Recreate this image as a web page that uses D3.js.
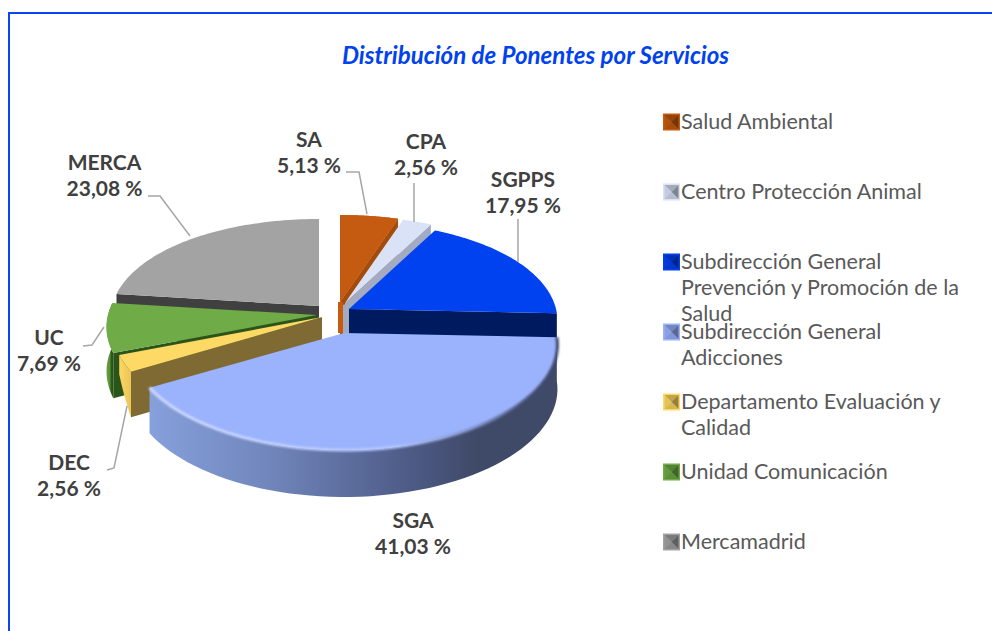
<!DOCTYPE html>
<html><head><meta charset="utf-8">
<script src="https://cdn.jsdelivr.net/npm/d3@7"></script>
<style>html,body{margin:0;padding:0;background:#fff}svg{display:block}text{font-family:Lato,sans-serif}</style>
</head><body><svg id="c" width="992" height="631"></svg>
<script>
const chartTitle = "Distribución de Ponentes por Servicios";
const codes = ["SA","CPA","SGPPS","SGA","DEC","UC","MERCA"];
const services = ["Salud Ambiental","Centro Protección Animal","Subdirección General Prevención y Promoción de la Salud","Subdirección General Adicciones","Departamento Evaluación y Calidad","Unidad Comunicación","Mercamadrid"];
const values = [5.13,2.56,17.95,41.03,2.56,7.69,23.08];
const valueLabels = ["5,13 %","2,56 %","17,95 %","41,03 %","2,56 %","7,69 %","23,08 %"];
const legendLines = [["Salud Ambiental"],["Centro Protección Animal"],["Subdirección General","Prevención y Promoción de la","Salud"],["Subdirección General","Adicciones"],["Departamento Evaluación y","Calidad"],["Unidad Comunicación"],["Mercamadrid"]];

// styling and layout, separate from the data
const topColors  = ["#c55a11","#d9e2f7","#0041f0","#9bb2fd","#ffd966","#6fab46","#a3a3a3"];
const sideColors = ["#a34c0e","#a3abc2","#001a60","#5a6a9a","#7f6a33","#2b5518","#404040"];
const apexes = [[340,302],[345,303],[349,309],[344,333],[322,317],[317,315],[319,306]];
const sideRadius = [207,207,207,212,208,209,207];
const paintOrder = [6,0,1,2,5,4,3];
const labelPos = [[309,147],[426,149],[523,187],[413,528],[69,470],[49,345],[104.5,170]];
const leaders = [[[346,172],[359,172],[367,214]],[[414,183],[414,222]],[[518,219],[518,262]],[],[[107,470],[114,468],[127,406]],[[83,346],[92,345],[104,327]],[[148,196],[160,196],[190,236]]];

const svg = d3.select("#c");
const defs = svg.append("defs");
const grad = (id,x1,x2,stops)=>{
  const g = defs.append("linearGradient").attr("id",id).attr("gradientUnits","userSpaceOnUse")
    .attr("x1",x1).attr("x2",x2).attr("y1",0).attr("y2",0);
  stops.forEach(s=>g.append("stop").attr("offset",s[0]).attr("stop-color",s[1]));
};
grad("wallSGA",150,558,[[0,"#86a0dc"],[.3,"#7085ba"],[.6,"#515f8c"],[.8,"#3f4968"],[1,"#3f4968"]]);
grad("rimSGA",150,558,[[0,"#cfdbff"],[.6,"#b4c6ff"],[.78,"#7e8fc4"],[.92,"#47537a"],[1,"#3f4968"]]);
grad("wallUC",104,112,[[0,"#71ad48"],[.7,"#5a9238"],[.95,"#2b5518"],[1,"#2b5518"]]);
grad("wallDEC",118,134,[[0,"#ffd966"],[1,"#e6c052"]]);
defs.append("filter").attr("id","soft").append("feGaussianBlur").attr("stdDeviation",0.9);
const wallFills = {3:"url(#wallSGA)",4:"url(#wallDEC)",5:"url(#wallUC)"};

// frame
svg.append("path").attr("d","M9,631V13H992").attr("fill","none").attr("stroke","#0a46f5").attr("stroke-width",2);

svg.append("text").attr("x",535.5).attr("y",64).attr("text-anchor","middle")
  .attr("font-size",24.1).attr("font-weight",700).attr("font-style","italic").attr("fill","#0041f0").text(chartTitle);

// pie geometry from d3.pie, projected with perspective
const arcs = d3.pie().sort(null).value(d=>d)(values);
const rim = (i,t)=>{
  const s=Math.sin(t), c=Math.cos(t), a=apexes[i];
  return [a[0]+(sideRadius[i]-25*c)*s, a[1]-(102-15*c)*c];
};
const drop = t=>44-3*Math.cos(t);
const line = d3.line();
const arcPts = (i,a0,a1)=>d3.range(0,61).map(k=>rim(i,a0+(a1-a0)*k/60));

paintOrder.forEach(i=>{
  const a0=arcs[i].startAngle, a1=arcs[i].endAngle, p=apexes[i];
  const g=svg.append("g");
  const pts=arcPts(i,a0,a1);
  const wallAngle = (i===6||i===4||i===5)?a0:(i===3?null:a1);
  if(i===5){
    const r=rim(i,a0);
    g.append("path").attr("d",line([p,r,[r[0],r[1]+drop(a0)],[p[0],p[1]+30]])+"Z").attr("fill",sideColors[i]);
  } else if(wallAngle!==null){
    const r=rim(i,wallAngle), d=drop(wallAngle);
    g.append("path").attr("d",line([p,r,[r[0],r[1]+d],[p[0],p[1]+d]])+"Z").attr("fill",sideColors[i]);
  }
  if(i>=3 && i<=5){
    // the yellow slice's wall tapers toward its outer corner
    const taper = k => i===4 ? 1-0.58*k/60 : 1;
    const low=pts.map((q,k)=>[q[0],q[1]+drop(a0+(a1-a0)*k/60)*taper(k)]).reverse();
    g.append("path").attr("d",line(pts.concat(low))+"Z").attr("fill",wallFills[i]);
  }
  if(i===0){
    g.append("path").attr("d",line([[p[0]-2,p[1]],[p[0]+3,p[1]],[p[0]+3,p[1]+31],[p[0]-2,p[1]+31]])+"Z").attr("fill",topColors[0]);
  }
  if(i===1){
    g.append("path").attr("d",line([[p[0]-2,p[1]+2],[p[0]+4,p[1]],[p[0]+4,p[1]+30],[p[0]-2,p[1]+30]])+"Z").attr("fill",sideColors[1]);
  }
  g.append("path").attr("d",line([p].concat(pts))+"Z").attr("fill",topColors[i]);
  if(i===3){
    g.append("path").attr("d",line(pts)).attr("fill","none").attr("stroke","url(#rimSGA)")
      .attr("stroke-width",3).attr("filter","url(#soft)");
  }
  if(i===1){
    // the SA top edge sits over the CPA slice
    const sa=arcPts(0,arcs[0].startAngle,arcs[0].endAngle);
    g.append("path").attr("d",line([apexes[0]].concat(sa))+"Z").attr("fill",topColors[0]);
  }
});

// leader lines
svg.append("g").selectAll("path").data(leaders.filter(d=>d.length)).join("path")
  .attr("d",d=>line(d)).attr("fill","none").attr("stroke","#a6a6a6").attr("stroke-width",1.5);

// data labels
const lab = svg.append("g").selectAll("text").data(codes).join("text")
  .attr("text-anchor","middle").attr("font-size",21).attr("font-weight",700).attr("fill","#404040");
lab.each(function(d,i){
  const t=d3.select(this), x=labelPos[i][0], y=labelPos[i][1];
  t.append("tspan").attr("x",x).attr("y",y).text(d);
  t.append("tspan").attr("x",x).attr("y",y+26).text(valueLabels[i]);
});

// legend
const legendY = d3.scalePoint().domain(services).range([122,542]);
const leg = svg.append("g").selectAll("g").data(services).join("g")
  .attr("transform",d=>`translate(663,${legendY(d)})`);
leg.each(function(d,i){
  const g=d3.select(this), c=d3.color(topColors[i]);
  const h=8.5, k=1.5;
  const tri=(pts,col)=>g.append("path").attr("d",line(pts)+"Z").attr("fill",col);
  g.append("rect").attr("x",0).attr("y",-h).attr("width",17).attr("height",17).attr("fill",c.formatHex());
  tri([[k,-h+k],[17-k,-h+k],[h,0]],c.darker(0.8));
  tri([[k,-h+k],[k,h-k],[h,0]],c.darker(0.3));
  tri([[17-k,-h+k],[17-k,h-k],[h,0]],c.darker(1.5));
  tri([[k,h-k],[17-k,h-k],[h,0]],c.darker(0.5));
  legendLines[i].forEach((s,j)=>{
    g.append("text").attr("x",18).attr("y",7+j*26).attr("font-size",21.5).attr("fill","#595959").text(s);
  });
});
</script></body></html>
